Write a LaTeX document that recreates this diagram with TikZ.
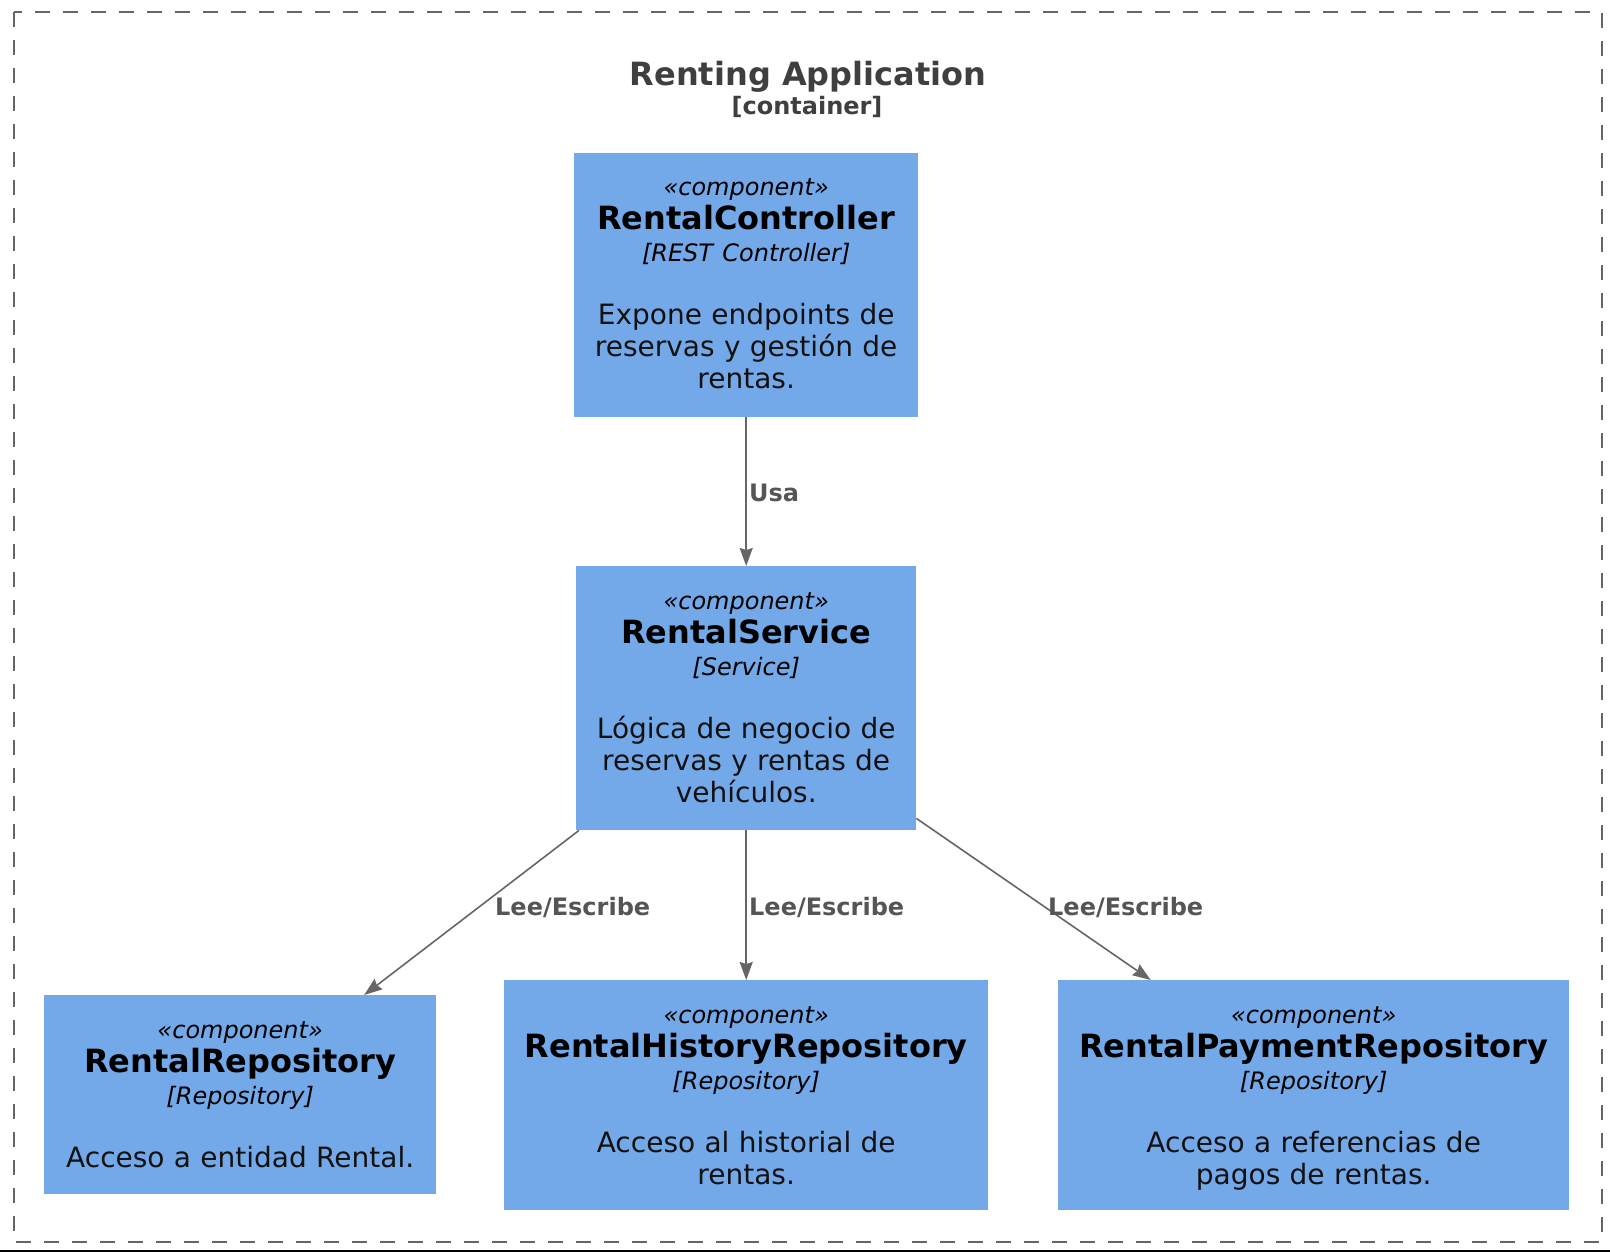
\documentclass[tikz,border=0pt]{standalone}
\usepackage{fontspec}
\setmainfont{DejaVu Sans}
\usetikzlibrary{arrows.meta}
\definecolor{boxfill}{HTML}{74A9E9}
\definecolor{edgecol}{HTML}{666666}
\definecolor{labcol}{HTML}{555555}
\definecolor{titlecol}{HTML}{3F3F3F}
\definecolor{desccol}{HTML}{111111}
\tikzset{
  compbox/.style={fill=boxfill, draw=none, rectangle, inner sep=0pt, anchor=north west},
  comptext/.style={inner sep=0pt, align=center, anchor=base, font=\fontsize{28}{32}\selectfont},
  rel/.style={draw=edgecol, line width=1.6pt, -{Stealth[length=18pt,width=13pt,inset=2pt]}},
  rellabel/.style={text=labcol, font=\bfseries\fontsize{24}{28}\selectfont, inner sep=0pt, anchor=west},
  frame/.style={draw=edgecol, line width=1.8pt, dash pattern=on 15pt off 13pt},
}
\newcommand\compnode[8]{%
  \node[compbox, minimum width={(#4-#2)*1pt}, minimum height={(#5-#3)*1pt}] (#1) at (#2,#3) {};
  \node[comptext, text width={(#4-#2)*1pt}] (#1-text) at ([yshift=-43pt]#1.north)
    {{\itshape\fontsize{24}{28}\selectfont «component»}\\[2pt]
     {\bfseries\fontsize{32}{36}\selectfont #6}\\
     {\itshape\fontsize{24}{28}\selectfont [#7]}\\[31pt]
     {\color{desccol}#8}};
}
\begin{document}
\begin{tikzpicture}[x=1pt,y=-1pt]
\path[fill=white] (0,0) rectangle (1610,1252);
\useasboundingbox (0,0) rectangle (1610,1252);
\draw[frame] (14,12) rectangle (1602,1242);
\draw[black, line width=2pt] (0,1251) -- (1610,1251);

\node[text=titlecol, font=\bfseries\fontsize{32}{36}\selectfont, inner sep=0pt, anchor=base] (title) at (808,86) {Renting Application};
\node[text=titlecol, font=\bfseries\fontsize{24}{28}\selectfont, inner sep=0pt, anchor=base] (subtitle) at (807,115) {[container]};

\compnode{rc}{574}{153}{918}{417}{RentalController}{REST Controller}{Expone endpoints de\\reservas y gestión de\\rentas.}
\compnode{rs}{576}{566}{916}{830}{RentalService}{Service}{Lógica de negocio de\\reservas y rentas de\\vehículos.}
\compnode{rr}{44}{995}{436}{1194}{RentalRepository}{Repository}{Acceso a entidad Rental.}
\compnode{rh}{504}{980}{988}{1210}{RentalHistoryRepository}{Repository}{Acceso al historial de\\rentas.}
\compnode{rp}{1058}{980}{1569}{1210}{RentalPaymentRepository}{Repository}{Acceso a referencias de\\pagos de rentas.}

\draw[rel] (rc.south) -- (rc.south |- rs.north);
\draw[rel] ([xshift=3pt]rs.south west) -- ([xshift=124pt]rr.north);
\draw[rel] (rs.south) -- (rs.south |- rh.north);
\draw[rel] ([yshift=12pt]rs.south east) -- ([xshift=-163pt]rp.north);

\node[rellabel] (l1) at (749,493) {Usa};
\node[rellabel] (l2) at (495,907) {Lee/Escribe};
\node[rellabel] (l3) at (749,907) {Lee/Escribe};
\node[rellabel] (l4) at (1048,907) {Lee/Escribe};
\end{tikzpicture}
\end{document}
